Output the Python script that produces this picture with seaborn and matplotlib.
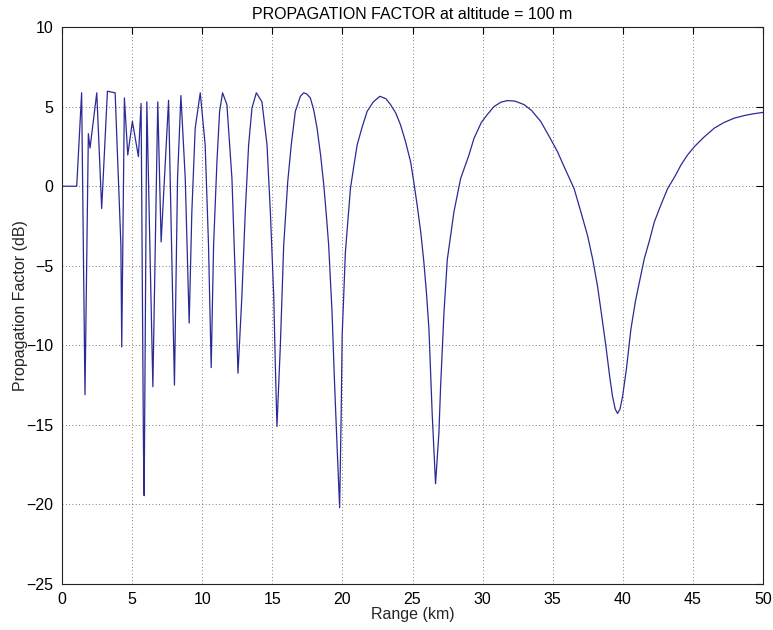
import matplotlib
matplotlib.use("Agg")
import matplotlib.pyplot as plt
import seaborn as sns
import pandas as pd

range_km = [0.0, 1.05, 1.40, 1.64, 1.88, 2.0, 2.48, 2.83, 3.24, 3.79, 4.2, 4.26, 4.45,
            4.69, 5.02, 5.45, 5.64, 5.81, 5.86, 6.05, 6.48, 6.83, 7.07, 7.6, 8.02,
            8.24, 8.48, 8.79, 9.07, 9.26, 9.5, 9.86, 10.21, 10.45, 10.64, 10.81, 11.05,
            11.24, 11.45, 11.76, 12.12, 12.36, 12.55, 12.83, 13.07, 13.31, 13.55, 13.86,
            14.26, 14.62, 14.86, 15.1, 15.21, 15.33, 15.57, 15.81, 16.1, 16.35, 16.64,
            16.9, 17.0, 17.24, 17.45, 17.71, 17.95, 18.19, 18.45, 18.67, 18.85, 19.02,
            19.26, 19.43, 19.62, 19.8, 19.91, 19.98, 20.21, 20.57, 20.8, 21.05, 21.4,
            21.76, 22.2, 22.67, 23.1, 23.43, 23.8, 24.14, 24.5, 24.86, 25.1, 25.33,
            25.6, 25.81, 26.0, 26.17, 26.4, 26.64, 26.88, 27.0, 27.24, 27.48, 27.95,
            28.43, 29.0, 29.38, 29.9, 30.33, 30.8, 31.3, 31.76, 32.3, 32.95, 33.5,
            34.14, 34.7, 35.33, 35.9, 36.52, 37.0, 37.48, 37.85, 38.19, 38.5, 38.79,
            39.05, 39.26, 39.45, 39.62, 39.8, 39.98, 40.25, 40.57, 40.9, 41.52, 41.9,
            42.24, 42.7, 43.19, 43.7, 44.14, 44.6, 45.1, 45.8, 46.52, 47.2, 47.95,
            48.7, 49.3, 50.0]
factor_db = [0.0, 0.0, 5.87, -13.1, 3.3, 2.4, 5.87, -1.4, 5.97, 5.87, -3.7, -10.1, 5.55,
             1.96, 4.07, 1.86, 5.2, -16.4, -19.45, 5.3, -12.6, 5.3, -3.5, 5.4, -12.5,
             0.49, 5.7, 0.49, -8.6, -1.62, 3.65, 5.87, 2.6, -3.73, -11.4, -3.73, 1.54,
             4.7, 5.87, 5.13, 0.49, -5.84, -11.75, -6.9, -1.62, 2.6, 4.92, 5.87,
             5.3, 2.6, -1.62, -6.9, -11.1, -15.1, -10.06, -3.73, 0.3, 2.6, 4.7,
             5.4, 5.65, 5.87, 5.8, 5.55, 4.8, 3.65, 1.9, 0.06, -1.8, -3.73,
             -7.95, -12.2, -16.4, -20.2, -14.3, -9.4, -4.15, -0.15, 1.2, 2.6, 3.7,
             4.7, 5.3, 5.65, 5.5, 5.13, 4.6, 3.86, 2.8, 1.54, 0.2, -1.2,
             -3.0, -4.8, -6.8, -9.0, -14.3, -18.7, -15.5, -12.6, -7.95, -4.6, -1.62,
             0.49, 1.9, 3.0, 4.0, 4.5, 5.0, 5.28, 5.38, 5.35, 5.13, 4.75,
             4.07, 3.2, 2.18, 1.05, -0.15, -1.6, -3.1, -4.6, -6.27, -8.2, -10.06,
             -11.9, -13.2, -14.0, -14.28, -14.0, -13.2, -11.5, -9.0, -7.2, -4.58, -3.4,
             -2.25, -1.2, -0.15, 0.6, 1.33, 1.95, 2.49, 3.1, 3.65, 4.0, 4.28,
             4.45, 4.55, 4.64]

x_ticks = [0, 5, 10, 15, 20, 25, 30, 35, 40, 45, 50]
y_ticks = [-25, -20, -15, -10, -5, 0, 5, 10]

sns.set_style("white")
plt.rcParams["font.family"] = ["Liberation Sans", "DejaVu Sans"]

df = pd.DataFrame({"Range": range_km, "PF": factor_db})

fig = plt.figure(figsize=(7.73, 6.30), dpi=100)
ax = fig.add_axes([0.0802, 0.073, 0.907, 0.884])
sns.lineplot(data=df, x="Range", y="PF", ax=ax, color="#2a2a96", lw=0.9,
             estimator=None, sort=False)

ax.set_xlim(0, 50)
ax.set_ylim(-25, 10)
ax.set_xticks(x_ticks)
ax.set_yticks(y_ticks)
ax.grid(True, linestyle=(0, (1, 3)), color="#555555", linewidth=0.6)
ax.tick_params(direction="in", top=True, right=True, length=5, labelsize=11.5,
               colors="black", width=0.8)
ax.tick_params(axis="x", pad=6)
ax.tick_params(axis="y", pad=6)
for s in ax.spines.values():
    s.set_color("#222222")
    s.set_linewidth(0.8)
ax.set_xlabel("Range (km)", fontsize=11.5, labelpad=0)
ax.set_ylabel("Propagation Factor (dB)", fontsize=11.5, labelpad=-1)
ax.set_title("PROPAGATION FACTOR at altitude = 100 m", fontsize=11.5, pad=6,
             color="black")

fig.savefig("out.png", dpi=100)
